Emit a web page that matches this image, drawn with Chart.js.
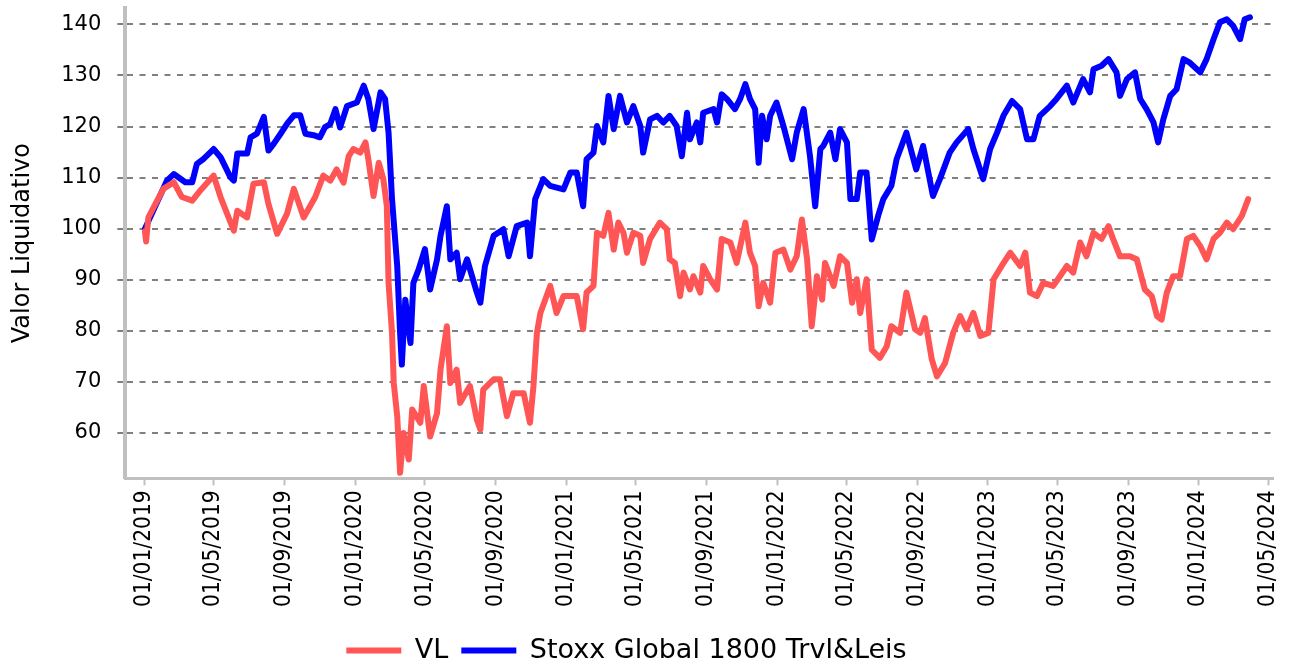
<!DOCTYPE html>
<html>
<head>
<meta charset="utf-8">
<script src="https://cdn.jsdelivr.net/npm/chart.js"></script>
<style>
html,body{margin:0;padding:0;background:#ffffff;}
canvas{display:block;}
</style>
</head>
<body>
<canvas id="chart" width="1289" height="662"></canvas>
<script>
const seriesNames = ["VL", "Stoxx Global 1800 Trvl&Leis"];
const yAxisTitle = "Valor Liquidativo";

const xTickLabels = [
  "01/01/2019","01/05/2019","01/09/2019","01/01/2020","01/05/2020","01/09/2020",
  "01/01/2021","01/05/2021","01/09/2021","01/01/2022","01/05/2022","01/09/2022",
  "01/01/2023","01/05/2023","01/09/2023","01/01/2024","01/05/2024"
];
const yTickValues = [60, 70, 80, 90, 100, 110, 120, 130, 140];

const vlDates = [
  "2019-01-02","2019-01-04","2019-01-08","2019-01-20","2019-02-03","2019-02-21","2019-03-07","2019-03-25",
  "2019-04-08","2019-05-01","2019-05-13","2019-06-05","2019-06-11","2019-06-28","2019-07-09","2019-07-27",
  "2019-08-04","2019-08-19","2019-09-05","2019-09-17","2019-10-04","2019-10-24","2019-11-07","2019-11-19",
  "2019-11-30","2019-12-12","2019-12-21","2019-12-29","2020-01-10","2020-01-19","2020-01-24","2020-02-02",
  "2020-02-11","2020-02-19","2020-02-25","2020-02-28","2020-03-05","2020-03-08","2020-03-14","2020-03-19",
  "2020-03-25","2020-04-03","2020-04-09","2020-04-23","2020-04-29","2020-05-10","2020-05-22","2020-05-28",
  "2020-06-08","2020-06-14","2020-06-25","2020-07-01","2020-07-18","2020-07-30","2020-08-05","2020-08-10",
  "2020-08-28","2020-09-08","2020-09-20","2020-10-01","2020-10-19","2020-10-30","2020-11-05","2020-11-11",
  "2020-11-17","2020-12-04","2020-12-15","2020-12-27","2021-01-19","2021-01-30","2021-02-05","2021-02-17",
  "2021-02-23","2021-03-06","2021-03-15","2021-03-24","2021-04-01","2021-04-10","2021-04-16","2021-04-27",
  "2021-05-09","2021-05-14","2021-05-26","2021-06-12","2021-06-24","2021-06-29","2021-07-08","2021-07-17",
  "2021-07-23","2021-08-03","2021-08-09","2021-08-21","2021-08-26","2021-09-07","2021-09-19","2021-09-27",
  "2021-10-12","2021-10-23","2021-11-07","2021-11-15","2021-11-24","2021-11-30","2021-12-08","2021-12-20",
  "2021-12-29","2022-01-12","2022-01-24","2022-02-04","2022-02-13","2022-02-22","2022-03-02","2022-03-11",
  "2022-03-20","2022-03-25","2022-04-09","2022-04-20","2022-05-02","2022-05-11","2022-05-19","2022-05-25",
  "2022-06-05","2022-06-14","2022-06-28","2022-07-10","2022-07-18","2022-08-02","2022-08-13","2022-08-28",
  "2022-09-06","2022-09-14","2022-09-26","2022-10-05","2022-10-19","2022-11-02","2022-11-14","2022-11-25",
  "2022-12-07","2022-12-19","2023-01-02","2023-01-11","2023-01-25","2023-02-09","2023-02-26","2023-03-07",
  "2023-03-15","2023-03-27","2023-04-07","2023-04-24","2023-05-06","2023-05-18","2023-05-29","2023-06-10",
  "2023-06-21","2023-07-03","2023-07-17","2023-07-29","2023-08-06","2023-08-18","2023-09-04","2023-09-16",
  "2023-09-30","2023-10-12","2023-10-21","2023-10-29","2023-11-07","2023-11-18","2023-11-30","2023-12-12",
  "2023-12-23","2024-01-04","2024-01-15","2024-01-27","2024-02-07","2024-02-19","2024-03-01","2024-03-16",
  "2024-03-27"
];
const vlValues = [
  99.5, 97.5, 102.2, 104.8, 107.8, 109.1, 106.2, 105.5,
  107.5, 110.4, 106.2, 99.6, 103.5, 102.2, 108.8, 109.1,
  104.8, 99.0, 102.9, 107.8, 102.2, 106.2, 110.4, 109.4,
  111.6, 109.0, 114.2, 115.6, 114.9, 116.9, 113.6, 106.4,
  112.9, 109.7, 104.4, 89.4, 79.6, 69.8, 63.3, 52.2,
  60.0, 54.8, 64.6, 62.0, 69.2, 59.3, 63.9, 72.4,
  80.9, 69.8, 72.4, 65.9, 69.2, 62.6, 60.7, 68.5,
  70.5, 70.5, 63.3, 67.8, 67.8, 62.0, 69.2, 79.6,
  83.5, 88.8, 83.5, 86.8, 86.8, 80.3, 87.5, 88.8,
  99.2, 98.6, 103.1, 95.9, 101.2, 99.2, 95.3, 99.2,
  98.6, 93.3, 98.0, 101.2, 99.9, 94.0, 93.3, 86.8,
  91.4, 88.1, 90.7, 87.5, 92.7, 90.1, 88.1, 98.0,
  97.3, 93.3, 101.2, 95.3, 92.7, 84.8, 89.4, 85.5,
  95.3, 95.9, 92.0, 94.6, 101.8, 94.0, 80.9, 90.7,
  86.1, 93.3, 88.8, 94.6, 93.3, 85.5, 90.1, 83.5,
  90.1, 76.3, 74.7, 77.0, 80.9, 79.6, 87.5, 80.3,
  79.6, 82.5, 74.4, 71.1, 73.7, 79.6, 82.9, 80.3,
  83.5, 79.0, 79.6, 90.1, 92.7, 95.3, 92.7, 95.3,
  87.5, 86.8, 89.4, 88.8, 90.7, 92.7, 91.4, 97.3,
  94.6, 99.2, 98.0, 100.5, 98.0, 94.6, 94.6, 94.0,
  88.1, 86.8, 82.9, 82.2, 87.5, 90.7, 90.7, 98.0,
  98.6, 96.6, 94.0, 98.0, 99.2, 101.2, 99.9, 102.5,
  105.8
];

const stoxxDates = [
  "2019-01-02","2019-02-09","2019-02-21","2019-03-13","2019-03-25","2019-04-02","2019-04-14","2019-05-01",
  "2019-05-13","2019-05-30","2019-06-05","2019-06-11","2019-06-28","2019-07-04","2019-07-15","2019-07-27",
  "2019-08-04","2019-08-13","2019-08-25","2019-09-05","2019-09-17","2019-09-28","2019-10-07","2019-10-21",
  "2019-11-01","2019-11-10","2019-11-19","2019-11-28","2019-12-06","2019-12-18","2020-01-04","2020-01-16",
  "2020-01-24","2020-02-02","2020-02-14","2020-02-22","2020-02-28","2020-03-05","2020-03-14","2020-03-19",
  "2020-03-22","2020-03-28","2020-04-06","2020-04-11","2020-04-20","2020-05-01","2020-05-10","2020-05-22",
  "2020-05-28","2020-06-08","2020-06-14","2020-06-25","2020-07-01","2020-07-13","2020-07-30","2020-08-05",
  "2020-08-13","2020-08-28","2020-09-14","2020-09-23","2020-10-07","2020-10-25","2020-10-30","2020-11-08",
  "2020-11-22","2020-12-04","2020-12-27","2021-01-08","2021-01-19","2021-01-30","2021-02-05","2021-02-17",
  "2021-02-23","2021-03-06","2021-03-15","2021-03-24","2021-04-04","2021-04-16","2021-04-27","2021-05-09",
  "2021-05-14","2021-05-26","2021-06-07","2021-06-18","2021-06-29","2021-07-11","2021-07-20","2021-07-29",
  "2021-08-03","2021-08-15","2021-08-21","2021-08-26","2021-09-13","2021-09-19","2021-09-27","2021-10-06",
  "2021-10-20","2021-10-29","2021-11-07","2021-11-15","2021-11-24","2021-11-30","2021-12-06","2021-12-14",
  "2021-12-20","2021-12-31","2022-01-12","2022-01-27","2022-02-04","2022-02-16","2022-02-27","2022-03-08",
  "2022-03-17","2022-03-22","2022-04-03","2022-04-12","2022-04-20","2022-05-02","2022-05-08","2022-05-19",
  "2022-05-25","2022-06-05","2022-06-14","2022-06-25","2022-07-04","2022-07-18","2022-07-27","2022-08-13",
  "2022-08-30","2022-09-11","2022-09-28","2022-10-10","2022-10-27","2022-11-08","2022-11-28","2022-12-07",
  "2022-12-24","2023-01-05","2023-01-17","2023-01-28","2023-02-12","2023-02-26","2023-03-10","2023-03-21",
  "2023-04-01","2023-04-19","2023-04-30","2023-05-18","2023-05-29","2023-06-15","2023-06-27","2023-07-03",
  "2023-07-17","2023-07-29","2023-08-12","2023-08-18","2023-08-30","2023-09-13","2023-09-22","2023-10-03",
  "2023-10-15","2023-10-23","2023-11-01","2023-11-13","2023-11-24","2023-12-06","2023-12-17","2024-01-04",
  "2024-01-15","2024-01-27","2024-02-07","2024-02-19","2024-03-01","2024-03-13","2024-03-21","2024-03-30"
];
const stoxxValues = [
  100.0, 109.4, 110.7, 109.1, 109.1, 112.7, 113.7, 115.6,
  114.0, 110.1, 109.4, 114.7, 114.7, 117.9, 118.6, 121.9,
  115.3, 116.6, 118.6, 120.5, 122.2, 122.2, 118.6, 118.3,
  117.9, 119.9, 120.5, 123.4, 119.8, 124.0, 124.7, 128.0,
  125.4, 119.5, 126.7, 125.4, 118.8, 105.8, 92.7, 79.6,
  73.4, 86.1, 77.6, 89.4, 92.0, 96.0, 88.1, 94.0,
  98.6, 104.4, 94.0, 95.3, 90.1, 94.0, 87.5, 85.5,
  92.7, 98.6, 99.9, 94.6, 100.5, 101.2, 94.6, 105.8,
  109.7, 108.4, 107.7, 111.0, 111.0, 104.4, 113.6, 114.9,
  120.1, 116.9, 126.0, 119.5, 126.0, 120.8, 124.0, 120.1,
  114.9, 121.4, 122.1, 120.8, 122.1, 120.1, 114.2, 122.7,
  117.5, 120.8, 116.9, 122.7, 123.4, 120.8, 126.3, 125.4,
  123.4, 125.4, 128.3, 125.4, 123.4, 112.9, 122.1, 117.5,
  122.1, 124.7, 120.1, 113.6, 118.8, 123.4, 114.2, 104.4,
  115.6, 116.2, 118.8, 113.6, 119.5, 116.9, 105.8, 105.8,
  111.0, 111.0, 97.9, 102.5, 105.8, 108.4, 113.6, 118.8,
  111.6, 116.2, 106.4, 109.7, 114.9, 116.9, 119.5, 115.6,
  109.7, 115.6, 118.8, 122.1, 125.0, 123.4, 117.5, 117.5,
  122.1, 124.0, 125.4, 128.0, 124.7, 129.3, 126.7, 131.2,
  131.9, 133.2, 130.6, 126.0, 129.3, 130.6, 125.4, 123.4,
  120.8, 116.9, 121.4, 126.0, 127.3, 133.2, 132.5, 130.6,
  133.2, 137.1, 140.4, 141.0, 139.7, 137.1, 141.0, 141.4
];

// axis range settings
const xRangeStart = "2018-11-29";
const xRangeEnd = "2024-05-09";
const yRangeMin = 51.13;
const yRangeMax = 143.21;

function parseTickLabel(s) {
  const p = s.split('/').map(Number);
  return Date.UTC(p[2], p[1] - 1, p[0]);
}
function toPoints(dates, values) {
  return dates.map((d, i) => ({ x: Date.parse(d), y: values[i] }));
}

const CHART_BOTTOM = 478.3;

const legendShift = {
  id: 'legendShift',
  afterLayout(chart) {
    const l = chart.legend;
    if (!l) return;
    l.top += 12; l.bottom += 12;
    l.left -= 10; l.right -= 10;
  }
};

new Chart(document.getElementById('chart').getContext('2d'), {
  type: 'line',
  data: {
    datasets: [
      {
        label: seriesNames[0],
        data: toPoints(vlDates, vlValues),
        borderColor: '#ff5555',
        backgroundColor: '#ff5555',
        borderWidth: 6,
        pointRadius: 0,
        tension: 0,
        borderJoinStyle: 'round',
        borderCapStyle: 'round',
        fill: false
      },
      {
        label: seriesNames[1],
        data: toPoints(stoxxDates, stoxxValues),
        borderColor: '#0000ff',
        backgroundColor: '#0000ff',
        borderWidth: 6,
        pointRadius: 0,
        tension: 0,
        borderJoinStyle: 'round',
        borderCapStyle: 'round',
        fill: false
      }
    ]
  },
  options: {
    responsive: false,
    animation: false,
    devicePixelRatio: 1,
    layout: { padding: { top: 8, right: 16, bottom: 0, left: 0 } },
    plugins: {
      tooltip: { enabled: false },
      legend: {
        position: 'bottom',
        labels: {
          usePointStyle: true,
          pointStyle: 'line',
          pointStyleWidth: 55,
          padding: 13,
          color: '#000000',
          font: { family: 'DejaVu Sans', size: 27 }
        }
      }
    },
    scales: {
      x: {
        type: 'linear',
        min: Date.parse(xRangeStart),
        max: Date.parse(xRangeEnd),
        afterBuildTicks: (s) => { s.ticks = xTickLabels.map(l => ({ value: parseTickLabel(l) })); },
        afterFit: (s) => {
          const lh = s.chart.legend ? s.chart.legend.height : 0;
          s.height = s.chart.height - CHART_BOTTOM - lh;
          s.paddingLeft = 0;
          s.paddingRight = 0;
        },
        ticks: {
          autoSkip: false,
          minRotation: 90,
          maxRotation: 90,
          padding: 5,
          color: '#000000',
          font: { family: "'DejaVu Sans Condensed', 'DejaVu Sans', sans-serif", size: 22.5 },
          callback: (v, i) => xTickLabels[i]
        },
        grid: {
          display: true,
          drawOnChartArea: false,
          drawTicks: true,
          tickLength: 7,
          tickColor: '#c0c0c0',
          tickWidth: 2
        },
        border: { display: true, color: '#c0c0c0', width: 3 }
      },
      y: {
        type: 'linear',
        min: yRangeMin,
        max: yRangeMax,
        afterBuildTicks: (s) => { s.ticks = yTickValues.map(v => ({ value: v })); },
        afterFit: (s) => {
          s.width = 125.3;
          s.paddingTop = 0;
          s.paddingBottom = 0;
        },
        ticks: {
          padding: 16,
          color: '#000000',
          font: { family: 'DejaVu Sans', size: 21 }
        },
        grid: {
          color: '#808080',
          lineWidth: 2,
          tickLength: 8,
          tickColor: '#808080',
          tickWidth: 2,
          tickBorderDash: [6, 6]
        },
        border: { display: true, color: '#c0c0c0', width: 4, dash: [6, 6.5] },
        title: {
          display: true,
          text: yAxisTitle,
          color: '#000000',
          font: { family: 'DejaVu Sans', size: 24 },
          padding: { top: 8, bottom: 0 }
        }
      }
    }
  },
  plugins: [legendShift]
});
</script>
</body>
</html>
